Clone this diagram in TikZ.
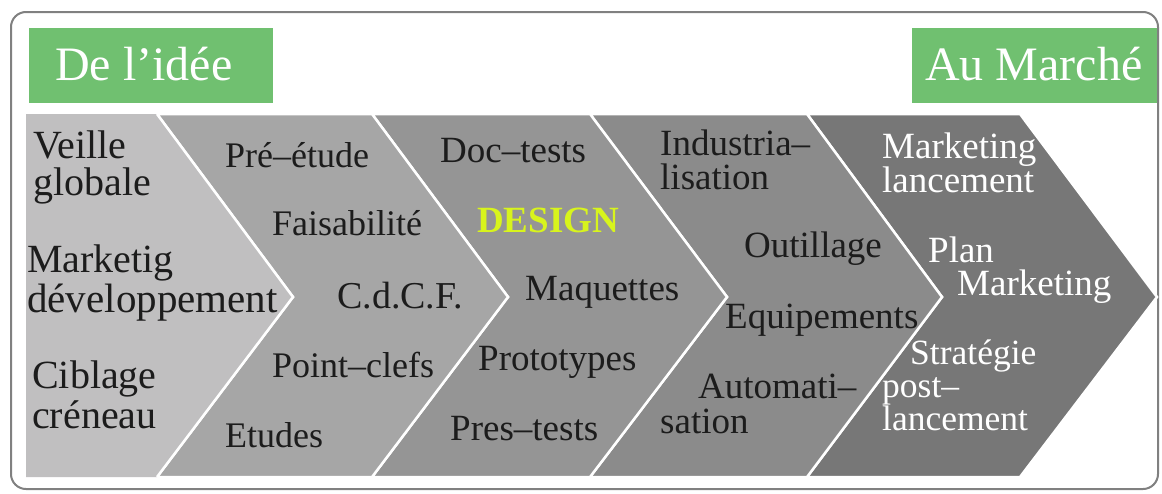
\documentclass[tikz,border=0pt]{standalone}
\usepackage{fontspec}
\setmainfont{Liberation Serif}
\definecolor{frame}{HTML}{808080}
\definecolor{greenbox}{HTML}{70C070}
\definecolor{ca}{HTML}{C0BFC0}
\definecolor{cb}{HTML}{A6A6A6}
\definecolor{cc}{HTML}{959595}
\definecolor{cd}{HTML}{8B8B8B}
\definecolor{ce}{HTML}{777777}
\definecolor{ink}{HTML}{1C1C1C}
\definecolor{designc}{HTML}{D8F41C}
\tikzset{
  chev/.style={draw=white, line width=2.5pt, line join=miter},
  txt/.style={anchor=base west, inner sep=0pt, text=ink, font=\fontsize{37}{40}\selectfont},
  bigtxt/.style={txt, font=\fontsize{40}{44}\selectfont},
  midtxt/.style={txt, font=\fontsize{36}{40}\selectfont},
  wtxt/.style={txt, text=white},
  swtxt/.style={wtxt, font=\fontsize{35.5}{38}\selectfont},
  gbox/.style={fill=greenbox, draw=none},
  gtxt/.style={anchor=base west, inner sep=0pt, text=white, font=\fontsize{48}{52}\selectfont}
}
\begin{document}
\begin{tikzpicture}[x=1pt,y=-1pt]
\useasboundingbox (0,0) rectangle (1162,493);
\fill[white] (0,0) rectangle (1162,493);
% outer frame
\draw[frame, line width=2pt, rounded corners=15pt] (11,12) rectangle (1158,489);
% green boxes
\fill[gbox] (29,28) rectangle (273,103);
\fill[gbox] (912,28) rectangle (1157,103);
\node[gtxt] (idee) at (55,80) {De l’idée};
\node[gtxt] (marche) at (925,80) {Au Marché};
% chevrons
\filldraw[chev, fill=ce] (807,114) -- (1020,114) -- (1157,297) -- (1020,477) -- (807,477) -- (942,297) -- cycle;
\filldraw[chev, fill=cd] (590,114) -- (807,114) -- (942,297) -- (807,477) -- (590,477) -- (727,297) -- cycle;
\filldraw[chev, fill=cc] (372,114) -- (590,114) -- (727,297) -- (590,477) -- (372,477) -- (508,297) -- cycle;
\filldraw[chev, fill=cb] (157,114) -- (372,114) -- (508,297) -- (372,477) -- (157,477) -- (293,297) -- cycle;
\filldraw[chev, fill=ca, draw=none] (26,114) -- (157,114) -- (293,297) -- (157,477) -- (26,477) -- cycle;
\draw[chev] (157,114) -- (293,297) -- (157,477);
% chevron 1 texts
\node[bigtxt] (a1) at (33,158) {Veille};
\node[bigtxt] (a2) at (33,195) {globale};
\node[bigtxt] (a3) at (27,272) {Marketig};
\node[bigtxt, font=\fontsize{41}{44}\selectfont] (a4) at (27,312) {développement};
\node[bigtxt] (a5) at (32,388) {Ciblage};
\node[bigtxt] (a6) at (32,428) {créneau};
% chevron 2 texts
\node[midtxt] (b1) at (225,167) {Pré–étude};
\node[midtxt] (b2) at (272,235) {Faisabilité};
\node[midtxt, font=\fontsize{38}{40}\selectfont] (b3) at (337,308) {C.d.C.F.};
\node[midtxt] (b4) at (272,377) {Point–clefs};
\node[midtxt] (b5) at (225,447) {Etudes};
% chevron 3 texts
\node[txt] (c1) at (440,162) {Doc–tests};
\node[txt, text=designc, font=\fontsize{37}{40}\selectfont\bfseries] (c2) at (477,232) {DESIGN};
\node[txt] (c3) at (525,300) {Maquettes};
\node[txt] (c4) at (478,370) {Prototypes};
\node[txt] (c5) at (450,440) {Pres–tests};
% chevron 4 texts
\node[txt] (d1) at (660,155) {Industria–};
\node[txt] (d2) at (660,189) {lisation};
\node[txt] (d3) at (744,257) {Outillage};
\node[txt] (d4) at (725,328) {Equipements};
\node[txt] (d5) at (698,398) {Automati–};
\node[txt] (d6) at (660,433) {sation};
% chevron 5 texts
\node[wtxt] (e1) at (882,158) {Marketing};
\node[wtxt] (e2) at (882,192) {lancement};
\node[wtxt] (e3) at (928,262) {Plan};
\node[wtxt] (e4) at (957,295) {Marketing};
\node[swtxt] (e5) at (910,364) {Stratégie};
\node[swtxt] (e6) at (882,397) {post–};
\node[swtxt] (e7) at (882,430) {lancement};
\end{tikzpicture}
\end{document}
